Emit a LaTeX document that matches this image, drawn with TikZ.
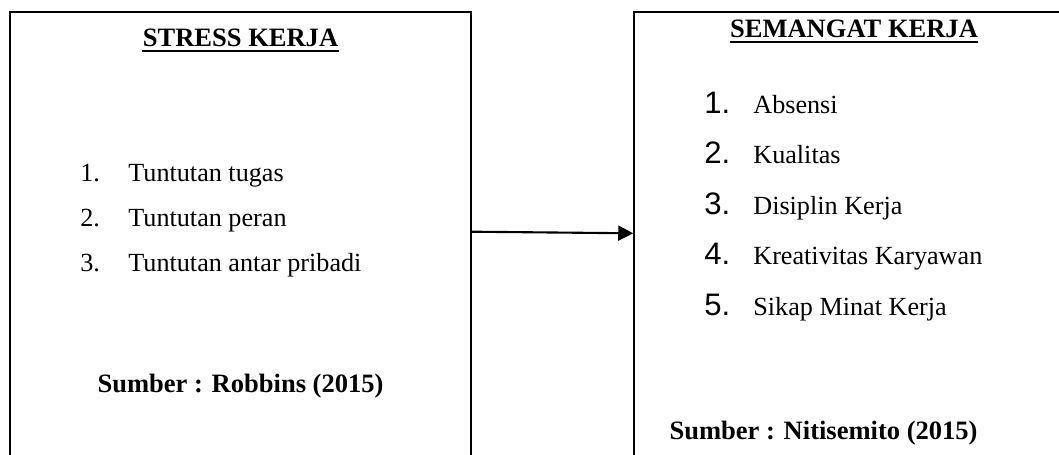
\documentclass[tikz,border=0pt]{standalone}
\usepackage{fontspec}
\setmainfont{Liberation Serif}
\newfontfamily\digitfont{Liberation Sans}
\usetikzlibrary{arrows.meta}
\tikzset{
  boxframe/.style={draw=black, line width=1pt, rectangle, inner sep=0pt},
  titletext/.style={anchor=base, inner sep=0pt, font=\fontsize{15.1pt}{18pt}\selectfont\bfseries},
  itemtext/.style={anchor=base west, inner sep=0pt, font=\fontsize{14.9pt}{17pt}\selectfont},
  bignum/.style={anchor=base west, inner sep=0pt, font=\fontsize{17.7pt}{20pt}\selectfont\digitfont},
  srctext/.style={anchor=base, inner sep=0pt, font=\fontsize{15.1pt}{18pt}\selectfont\bfseries},
  uline/.style={line width=1.1pt},
  linkarrow/.style={line width=1.2pt, -{Triangle[length=8.5pt,width=8.5pt]}}
}
\begin{document}
\begin{tikzpicture}[x=0.02cm, y=-0.02cm]
\useasboundingbox (0,0) rectangle (1059,455);
\clip (0,0) rectangle (1059,455);
% boxes
\node[boxframe, minimum width=9.22cm, minimum height=10.16cm] (L) at (240.5,266) {};
\node[boxframe, minimum width=9.32cm, minimum height=10.16cm] (R) at (867,266) {};
% titles
\node[titletext] (t1) at (240.5,47) {STRESS KERJA};
\draw[uline] ([yshift=-2.4pt]t1.base west) -- ([yshift=-2.4pt]t1.base east);
\node[titletext] (t2) at (854,38) {SEMANGAT KERJA};
\draw[uline] ([yshift=-2.4pt]t2.base west) -- ([yshift=-2.4pt]t2.base east);
% left list
\node[itemtext] (ln1) at (80,182) {1.};
\node[itemtext] (lt1) at (128,182) {Tuntutan tugas};
\node[itemtext] (ln2) at (80,227) {2.};
\node[itemtext] (lt2) at (128,227) {Tuntutan peran};
\node[itemtext] (ln3) at (80,272) {3.};
\node[itemtext] (lt3) at (128,272) {Tuntutan antar pribadi};
\node[srctext] (s1) at (240.5,393) {Sumber : Robbins (2015)};
% right list
\node[bignum] (rn1) at (704,114) {1.};
\node[itemtext] (rt1) at (753,114) {Absensi};
\node[bignum] (rn2) at (704,164) {2.};
\node[itemtext] (rt2) at (753,164) {Kualitas};
\node[bignum] (rn3) at (704,215) {3.};
\node[itemtext] (rt3) at (753,215) {Disiplin Kerja};
\node[bignum] (rn4) at (704,265) {4.};
\node[itemtext] (rt4) at (753,265) {Kreativitas Karyawan};
\node[bignum] (rn5) at (704,316) {5.};
\node[itemtext] (rt5) at (753,316) {Sikap Minat Kerja};
\node[srctext] (s2) at (823.5,440) {Sumber : Nitisemito (2015)};
% arrow
\draw[linkarrow] ([yshift=0.686cm]L.east) -- ([yshift=0.654cm]R.west);
\end{tikzpicture}
\end{document}
